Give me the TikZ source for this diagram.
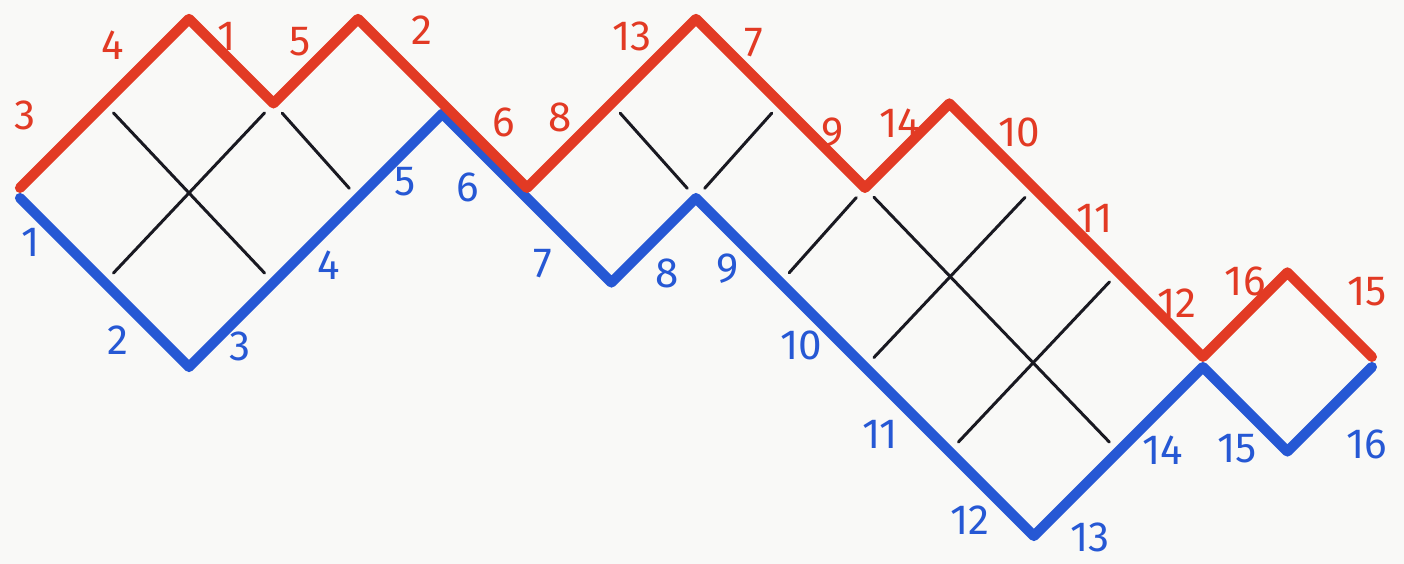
\documentclass[tikz,border=0pt]{standalone}
\usepackage{fontspec}
\setmainfont{Fira Sans}
\usepackage{tkz-euclide}
\definecolor{PaperClr}{rgb}{0.976,0.976,0.969}
\definecolor{UpperClr}{rgb}{0.886,0.227,0.141}
\definecolor{LowerClr}{rgb}{0.149,0.345,0.831}
\definecolor{InnerClr}{rgb}{0.10,0.10,0.13}

\begin{document}
\begin{tikzpicture}[scale=.845,
  upperlbl/.style={text=UpperClr,font=\fontsize{12}{13}\selectfont},
  lowerlbl/.style={text=LowerClr,font=\fontsize{12}{13}\selectfont}]
\tkzSetUpLine[line width=2.9pt,color=black]

\fill[PaperClr] (-0.237,-4.391) rectangle (16.379,2.284);
\useasboundingbox (-0.237,-4.391) rectangle (16.379,2.284);

% Upper path, lifted a little so it can run beside the lower one.
\tkzDefPoints{0/0.06/R0,1/1.06/R1,2/2.06/R2,3/1.06/R3,4/2.06/R4,
  5/1.06/R5,6/0.06/R6,7/1.06/R7,8/2.06/R8,9/1.06/R9,10/0.06/R10,
  11/1.06/R11,12/0.06/R12,13/-0.94/R13,14/-1.94/R14,15/-0.94/R15,
  16/-1.94/R16}
% Lower path.
\tkzDefPoints{0/-0.06/B0,1/-1.06/B1,2/-2.06/B2,3/-1.06/B3,4/-0.06/B4,
  5/0.94/B5,6/-0.06/B6,7/-1.06/B7,8/-0.06/B8,9/-1.06/B9,10/-2.06/B10,
  11/-3.06/B11,12/-4.06/B12,13/-3.06/B13,14/-2.06/B14,15/-3.06/B15,
  16/-2.06/B16}

% Inner edges of the cells between the two paths.
\tkzDrawSegments[color=InnerClr,line width=0.85pt,line cap=round,
  shorten >=1.3mm,shorten <=1.3mm](R1,B3 B1,R3 R3,B4 R7,B8 B8,R9 B9,R10 R10,B13 B10,R12 B11,R13)

\tkzDrawPolySeg[color=LowerClr,line cap=round,line join=round](B0,B1,B2,B3,B4,B5,B6,B7,B8,B9,B10,B11,B12,B13,B14,B15,B16)
\tkzDrawPolySeg[color=UpperClr,line cap=round,line join=round](R0,R1,R2,R3,R4,R5,R6,R7,R8,R9,R10,R11,R12,R13,R14,R15,R16)

\node[upperlbl] (u3) at (0.06,0.92) {3};
\node[upperlbl] (u4) at (1.10,1.75) {4};
\node[upperlbl] (u1) at (2.45,1.85) {1};
\node[upperlbl] (u5) at (3.31,1.79) {5};
\node[upperlbl] (u2) at (4.76,1.93) {2};
\node[upperlbl] (u6) at (5.72,0.83) {6};
\node[upperlbl] (u8) at (6.39,0.89) {8};
\node[upperlbl] (u13) at (7.24,1.85) {13};
\node[upperlbl] (u7) at (8.68,1.78) {7};
\node[upperlbl] (u9) at (9.62,0.71) {9};
\node[upperlbl] (u14) at (10.41,0.83) {14};
\node[upperlbl] (u10) at (11.83,0.72) {10};
\node[upperlbl] (u11) at (12.72,-0.30) {11};
\node[upperlbl] (u12) at (13.69,-1.30) {12};
\node[upperlbl] (u16) at (14.50,-1.05) {16};
\node[upperlbl] (u15) at (15.94,-1.17) {15};

\node[lowerlbl] (l1) at (0.12,-0.59) {1};
\node[lowerlbl] (l2) at (1.16,-1.74) {2};
\node[lowerlbl] (l3) at (2.60,-1.82) {3};
\node[lowerlbl] (l4) at (3.65,-0.85) {4};
\node[lowerlbl] (l5) at (4.56,0.13) {5};
\node[lowerlbl] (l6) at (5.30,0.06) {6};
\node[lowerlbl] (l7) at (6.19,-0.83) {7};
\node[lowerlbl] (l8) at (7.66,-0.95) {8};
\node[lowerlbl] (l9) at (8.37,-0.89) {9};
\node[lowerlbl] (l10) at (9.25,-1.80) {10};
\node[lowerlbl] (l11) at (10.18,-2.86) {11};
\node[lowerlbl] (l12) at (11.24,-3.87) {12};
\node[lowerlbl] (l13) at (12.66,-4.08) {13};
\node[lowerlbl] (l14) at (13.52,-3.04) {14};
\node[lowerlbl] (l15) at (14.40,-3.02) {15};
\node[lowerlbl] (l16) at (15.94,-2.98) {16};

\end{tikzpicture}
\end{document}
